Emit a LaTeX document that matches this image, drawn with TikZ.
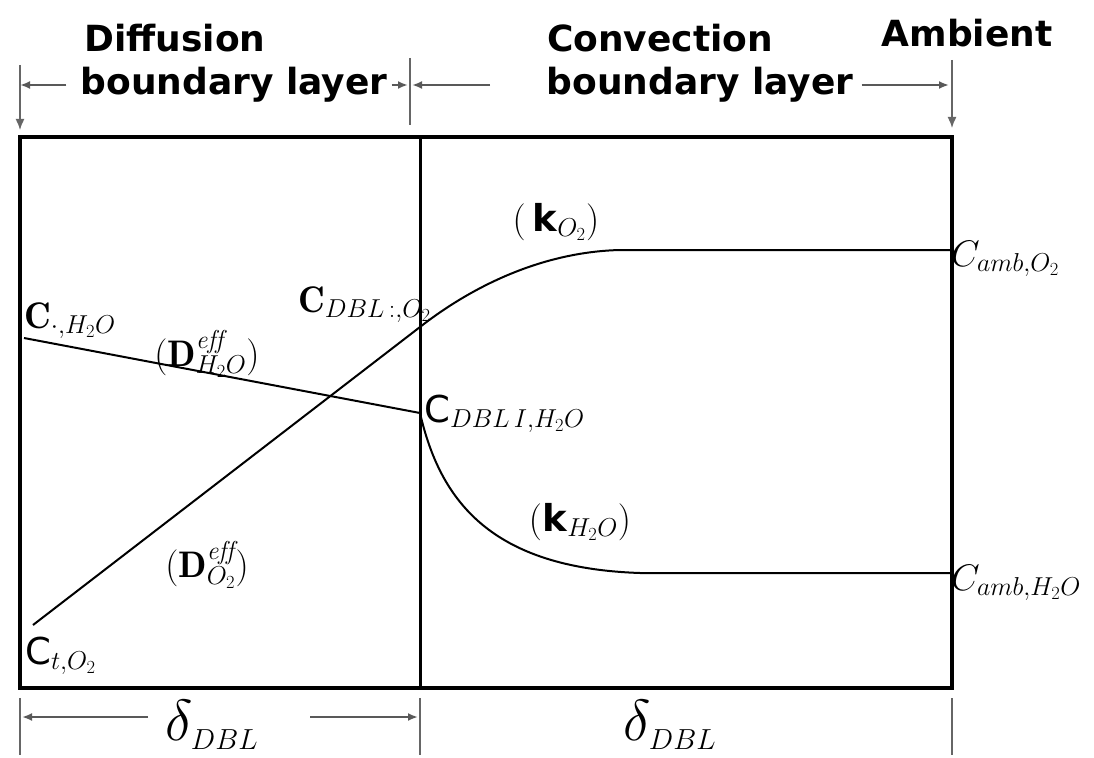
\RequirePackage{fix-cm}
\documentclass[tikz,border=0pt]{standalone}
\usepackage{fontspec}
\setsansfont{DejaVu Sans}
\usetikzlibrary{arrows.meta}

\begin{document}
\begin{tikzpicture}[x=1pt,y=-1pt,
  head/.style={font=\fontsize{36}{38}\selectfont\sffamily\bfseries, inner sep=0pt},
  lbl/.style={font=\fontsize{37}{39}\selectfont, inner sep=0pt},
  dlbl/.style={font=\fontsize{58}{60}\selectfont, inner sep=0pt},
  dimarr/.style={-{Latex[length=10pt,width=8pt]}, line width=2.5pt, black!65},
  tickln/.style={line width=1.5pt, black!60},
  conc/.style={line width=2pt}]
\useasboundingbox (0,0) rectangle (1094,757);

% frame of the two layers
\coordinate (tl) at (20,137);
\coordinate (br) at (952,688);
\coordinate (mt) at (420,137);
\coordinate (mb) at (420,688);
\draw[line width=4pt] (tl) rectangle (br);
\draw[line width=3pt] (mt) -- (mb);

% concentration profiles
\coordinate (sh) at (24,338);
\coordinate (wh) at (420,413);
\coordinate (so) at (33,625);
\coordinate (wo) at (420,327);
\coordinate (ao) at (952,250);
\coordinate (ah) at (952,573);
\draw[conc] (sh) -- (wh);
\draw[conc] (so) -- (wo);
\draw[conc] (wo) .. controls (470,288) and (540,252) .. (620,250) -- (ao);
\draw[conc] (wh) .. controls (440,500) and (490,568) .. (640,573) -- (ah);

% headings
\node[head] (df) at (175,38) {Diffusion};
\node[head] (bl1) at (234,85) {boundary layer};
\node[head] (cv) at (660,38) {Convection};
\node[head] (bl2) at (700,85) {boundary layer};
\node[head] (am) at (967,33) {Ambient};

\coordinate (t1) at (20,65);
\coordinate (t2) at (410,58);
\coordinate (t3) at (952,60);
\draw[tickln,-{Latex[length=11pt,width=9pt]}] (t1) -- (20,130);
\draw[tickln] (t2) -- (410,125);
\draw[tickln,-{Latex[length=11pt,width=9pt]}] (t3) -- (952,128);
\draw[dimarr] ([xshift=-14pt]bl1.west) -- (t1 |- bl1);
\draw[dimarr] ([xshift=4pt]bl1.east) -- ([xshift=-2pt]t2 |- bl1);
\draw[dimarr] (490,85) -- ([xshift=2pt]t2 |- bl1);
\draw[dimarr] ([xshift=8pt]bl2.east) -- ([xshift=-3pt]t3 |- bl2);

% labels on the profiles
\node[lbl, anchor=base west] (csh) at (24,328) {$\mathbf{C}_{\cdot,H_2O}$};
\node[lbl] (dh) at (207,354) {$(\mathbf{D}^{\mathit{eff}}_{H_2O})$};
\node[lbl, anchor=base west] (cwo) at (298,312) {$\mathbf{C}_{DBL\,:,O_2}$};
\node[lbl] (ko) at (556,222) {$(\,\textsf{\textbf{k}}_{O_2})$};
\node[lbl, anchor=base west] (cao) at (951,266) {$C_{amb,O_2}$};
\node[lbl, anchor=base west] (cwh) at (424,422) {$\textsf{C}_{DBL\,I,H_2O}$};
\node[lbl] (kh) at (580,522) {$(\textsf{\textbf{k}}_{H_2O})$};
\node[lbl, anchor=base west] (cah) at (951,590) {$C_{amb,H_2O}$};
\node[lbl] (do) at (207,565) {$(\mathbf{D}^{\mathit{eff}}_{O_2})$};
\node[lbl, anchor=base west] (cso) at (25,664) {$\textsf{C}_{t,O_2}$};

% layer thickness
\node[dlbl] (d1) at (212,725) {$\delta_{\scriptscriptstyle DBL}$};
\node[dlbl] (d2) at (670,725) {$\delta_{\scriptscriptstyle DBL}$};
\coordinate (b1) at (20,698);
\coordinate (b2) at (420,698);
\coordinate (b3) at (952,698);
\draw[tickln] (b1) -- (20,755);
\draw[tickln] (b2) -- (420,755);
\draw[tickln] (b3) -- (952,755);
\draw[dimarr] (148,717) -- ([xshift=2pt]b1 |- 0,717);
\draw[dimarr] (310,717) -- ([xshift=-2pt]b2 |- 0,717);
\end{tikzpicture}
\end{document}
